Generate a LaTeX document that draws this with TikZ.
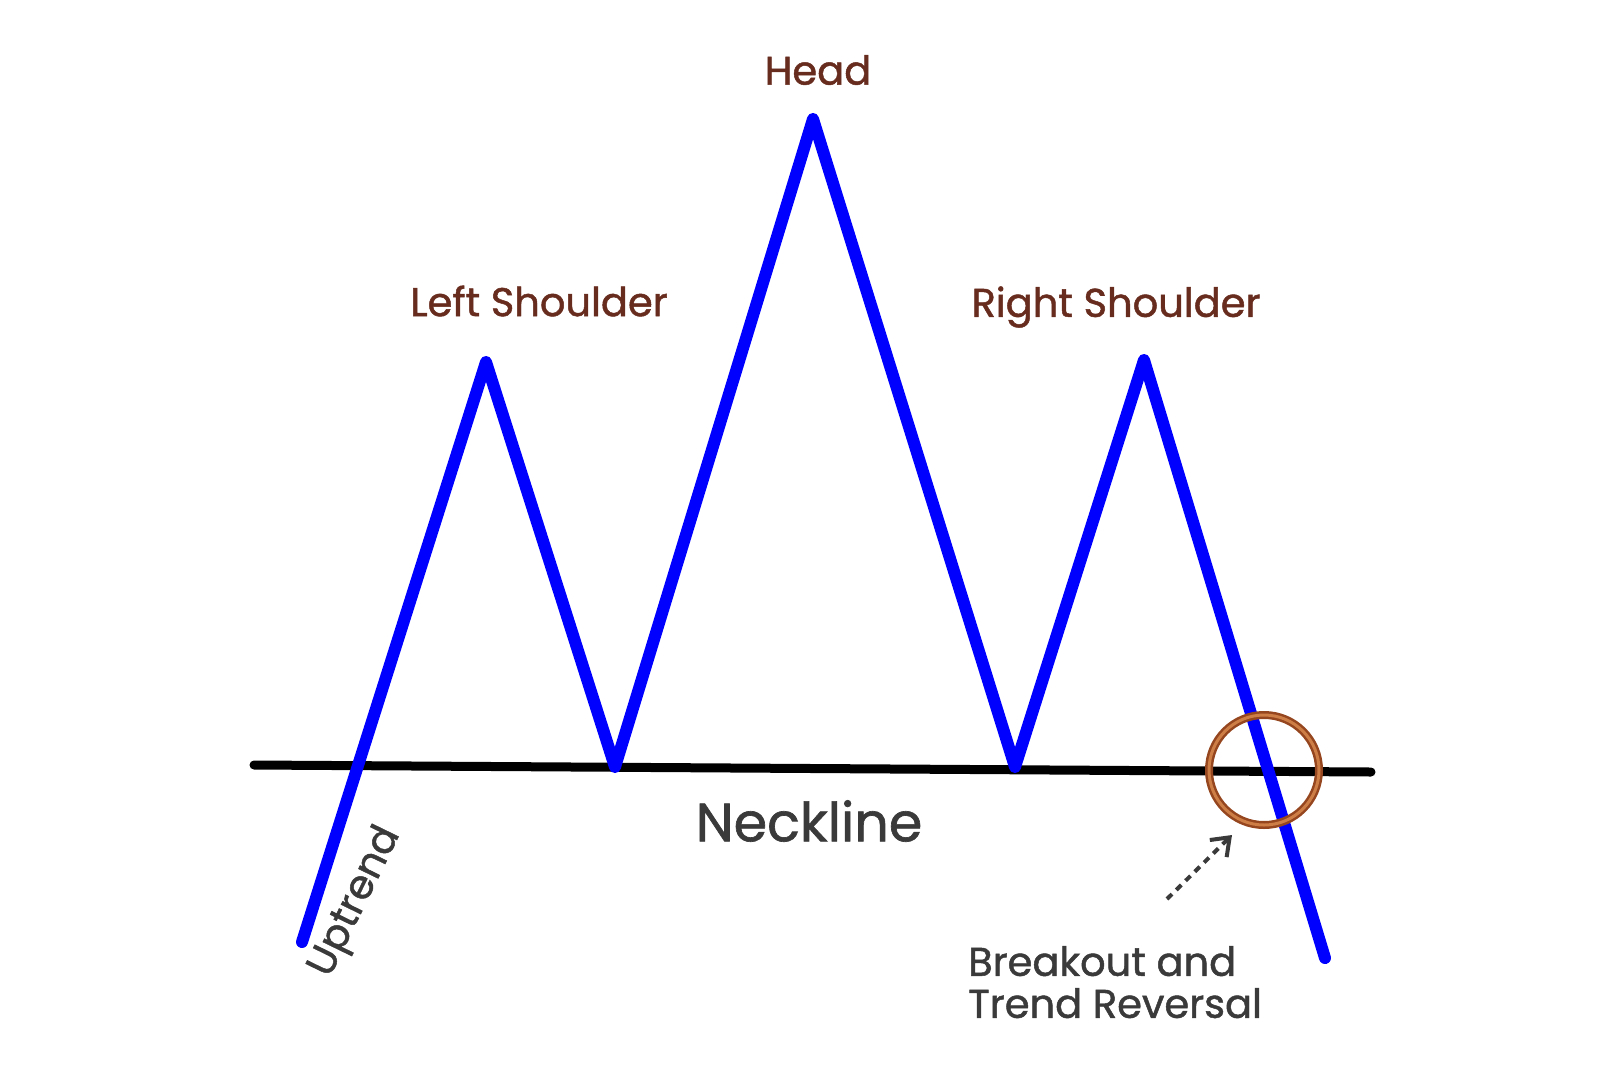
\documentclass[tikz,border=0pt]{standalone}
\usepackage{fontspec}
\setmainfont{Poppins}[FakeBold=1.2]
\usepackage{xcolor}
\usepackage{tikz}
\usetikzlibrary{arrows.meta,positioning,calc}

\definecolor{trendblue}{RGB}{0,0,255}
\definecolor{labelbrown}{RGB}{104,44,30}
\definecolor{ringbrown}{RGB}{150,70,30}
\definecolor{ringlight}{RGB}{205,125,70}
\definecolor{textgray}{RGB}{58,58,58}

\tikzset{
    trend/.style={trendblue, line width=12pt, line cap=round, line join=round},
    neck/.style={black, line width=9pt, line cap=round},
    peaklabel/.style={font=\fontsize{40}{46}\selectfont, text=labelbrown},
    notelabel/.style={font=\fontsize{40}{42}\selectfont, text=textgray, align=left}
}

\begin{document}
\begin{tikzpicture}[x=1pt, y=-1pt]

    % Frame
    \useasboundingbox (0,0) rectangle (1620,1080);

    % Pattern points
    \coordinate (start) at (302,942);
    \coordinate (lsh) at (486,362);
    \coordinate (lowa) at (615,767);
    \coordinate (head) at (813,119);
    \coordinate (lowb) at (1015,767);
    \coordinate (rsh) at (1144,360);
    \coordinate (finish) at (1325,958);

    % Neckline
    \coordinate (neckl) at (254,765);
    \coordinate (neckr) at (1371,772);
    \draw[neck] (neckl) -- (neckr);

    % Price path
    \draw[trend] (start) -- (lsh) -- (lowa) -- (head) -- (lowb) -- (rsh) -- (finish);

    % Breakout ring
    \node[circle, draw=ringbrown, double=ringlight, double distance=3pt, line width=2.5pt,
          minimum size=110pt, inner sep=0pt] (brk) at (1264,770) {};

    % Labels
    \node[peaklabel] (headlbl) at (818,70) {Head};
    \node[peaklabel] (lshlbl) at (539,301) {Left Shoulder};
    \node[peaklabel] (rshlbl) at (1116,307) {Right Shoulder};
    \node[font=\fontsize{54}{60}\selectfont, text=textgray] (necklbl) at (809,821) {Neckline};
    \node[font=\fontsize{40}{46}\selectfont, text=textgray, rotate=64] (uplbl) at (356,902) {Uptrend};
    \node[notelabel, anchor=north west, inner sep=0pt] (brklbl) at (968,946) {Breakout and\\Trend Reversal};

    % Pointer
    \coordinate (ptail) at (1167,899);
    \coordinate (ptip) at (1232,835);
    \draw[textgray, line width=4pt, dash pattern=on 7pt off 6pt, -{Straight Barb[length=16pt, width=24pt]}] (ptail) -- (ptip);

\end{tikzpicture}
\end{document}
